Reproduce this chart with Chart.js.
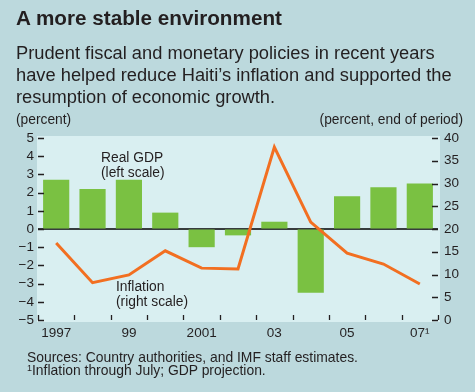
<!DOCTYPE html>
<html>
<head>
<meta charset="utf-8">
<script src="https://cdn.jsdelivr.net/npm/chart.js@4"></script>
<style>
  body { margin: 0; background: #bcd9dd; width: 475px; height: 392px; overflow: hidden; position: relative;
         font-family: "Liberation Sans", Arial, sans-serif; color: #231f20; }
  canvas { position: absolute; left: 0; top: 0; }
  .t { position: absolute; white-space: nowrap; }
  #title { left: 16px; top: 6px; font-size: 20.7px; font-weight: bold; line-height: 24px; }
  #sub { left: 16px; top: 42px; font-size: 18.3px; line-height: 22px; }
  .unit { top: 112px; font-size: 13.8px; line-height: 16px; }
  .note { font-size: 13.8px; line-height: 15px; }
  #foot { left: 27px; top: 351px; font-size: 13.9px; line-height: 13px; }
</style>
</head>
<body>
<canvas id="chart" width="475" height="392"></canvas>
<div class="t" id="title">A more stable environment</div>
<div class="t" id="sub">Prudent fiscal and monetary policies in recent years<br>have helped reduce Haiti’s inflation and supported the<br>resumption of economic growth.</div>
<div class="t unit" style="left:16px">(percent)</div>
<div class="t unit" style="right:12px">(percent, end of period)</div>
<div class="t note" style="left:101px;top:150px">Real GDP<br>(left scale)</div>
<div class="t note" style="left:116px;top:279px">Inflation<br>(right scale)</div>
<div class="t" id="foot">Sources: Country authorities, and IMF staff estimates.<br><sup style="font-size:9px;vertical-align:4px;line-height:0">1</sup>Inflation through July; GDP projection.</div>
<script>
const years = ['1997', '1998', '1999', '2000', '2001', '2002', '2003', '2004', '2005', '2006', '2007']
const yearLabels = ['1997', '', '99', '', '2001', '', '03', '', '05', '', '07¹']
const realGdp = [2.7, 2.2, 2.7, 0.9, -1.0, -0.35, 0.4, -3.5, 1.8, 2.3, 2.5]
const inflation = [16.9, 8.2, 9.9, 15.2, 11.4, 11.2, 38.0, 21.5, 14.7, 12.3, 7.9]

const ink = '#231f20'
const tickFont = { family: '"Liberation Sans", Arial, sans-serif', size: 13.5 }

// plot background, zero line and the small inward tick marks
const frame = {
  id: 'frame',
  beforeDraw(chart) {
    const { ctx, chartArea: a } = chart
    ctx.save()
    ctx.fillStyle = '#d9eff1'
    ctx.fillRect(a.left - 1, a.top - 2, a.width + 3, a.height + 4)
    ctx.restore()
  },
  beforeDatasetsDraw(chart) {
    const { ctx, chartArea: a } = chart
    const y0 = chart.scales.y.getPixelForValue(0)
    ctx.save()
    ctx.strokeStyle = '#000'
    ctx.lineWidth = 1.5
    ctx.beginPath()
    ctx.moveTo(a.left, y0)
    ctx.lineTo(a.right, y0)
    ctx.stroke()
    ctx.restore()
  },
  afterDraw(chart) {
    const { ctx, chartArea: a } = chart
    const { y, y1 } = chart.scales
    ctx.save()
    ctx.strokeStyle = ink
    ctx.lineWidth = 1.3
    ctx.beginPath()
    for (let v = -5; v <= 5; v++) {
      const p = Math.round(y.getPixelForValue(v)) + 0.5
      ctx.moveTo(a.left, p)
      ctx.lineTo(a.left + 6, p)
    }
    for (let v = 0; v <= 40; v += 5) {
      const p = Math.round(y1.getPixelForValue(v)) + 0.5
      ctx.moveTo(a.right - 6, p)
      ctx.lineTo(a.right, p)
    }
    const step = a.width / years.length
    for (let i = 0; i <= years.length; i++) {
      const p = Math.round(a.left + i * step) + 0.5
      ctx.moveTo(p, a.bottom)
      ctx.lineTo(p, a.bottom - 5)
    }
    ctx.stroke()
    ctx.restore()
  }
}

new Chart(document.getElementById('chart'), {
  data: {
    labels: years,
    datasets: [
      {
        type: 'line',
        label: 'Inflation',
        data: inflation,
        yAxisID: 'y1',
        borderColor: '#f26f21',
        borderWidth: 3,
        borderJoinStyle: 'miter',
        pointRadius: 0,
        tension: 0
      },
      {
        type: 'bar',
        label: 'Real GDP',
        data: realGdp,
        yAxisID: 'y',
        backgroundColor: '#7ac142',
        categoryPercentage: 1,
        barPercentage: 0.72
      }
    ]
  },
  options: {
    responsive: false,
    animation: false,
    devicePixelRatio: 1,
    layout: { padding: { top: 138, left: 0, right: 0, bottom: 0 } },
    plugins: { legend: { display: false }, tooltip: { enabled: false } },
    scales: {
      x: {
        grid: { display: false, drawTicks: false },
        border: { display: false },
        ticks: {
          autoSkip: false, maxRotation: 0, padding: 5, color: ink, font: tickFont,
          callback: (v, i) => yearLabels[i]
        },
        afterFit: s => { s.height = 72 }
      },
      y: {
        position: 'left',
        min: -5, max: 5,
        grid: { drawOnChartArea: false, drawTicks: false },
        border: { display: false },
        ticks: {
          stepSize: 1, autoSkip: false, padding: 4, color: ink, font: tickFont,
          callback: v => (v < 0 ? '−' + Math.abs(v) : String(v))
        },
        afterFit: s => { s.width = 38 }
      },
      y1: {
        position: 'right',
        min: 0, max: 40,
        grid: { drawOnChartArea: false, drawTicks: false },
        border: { display: false },
        ticks: { stepSize: 5, autoSkip: false, padding: 6, color: ink, font: tickFont },
        afterFit: s => { s.width = 37 }
      }
    }
  },
  plugins: [frame]
})
</script>
</body>
</html>
